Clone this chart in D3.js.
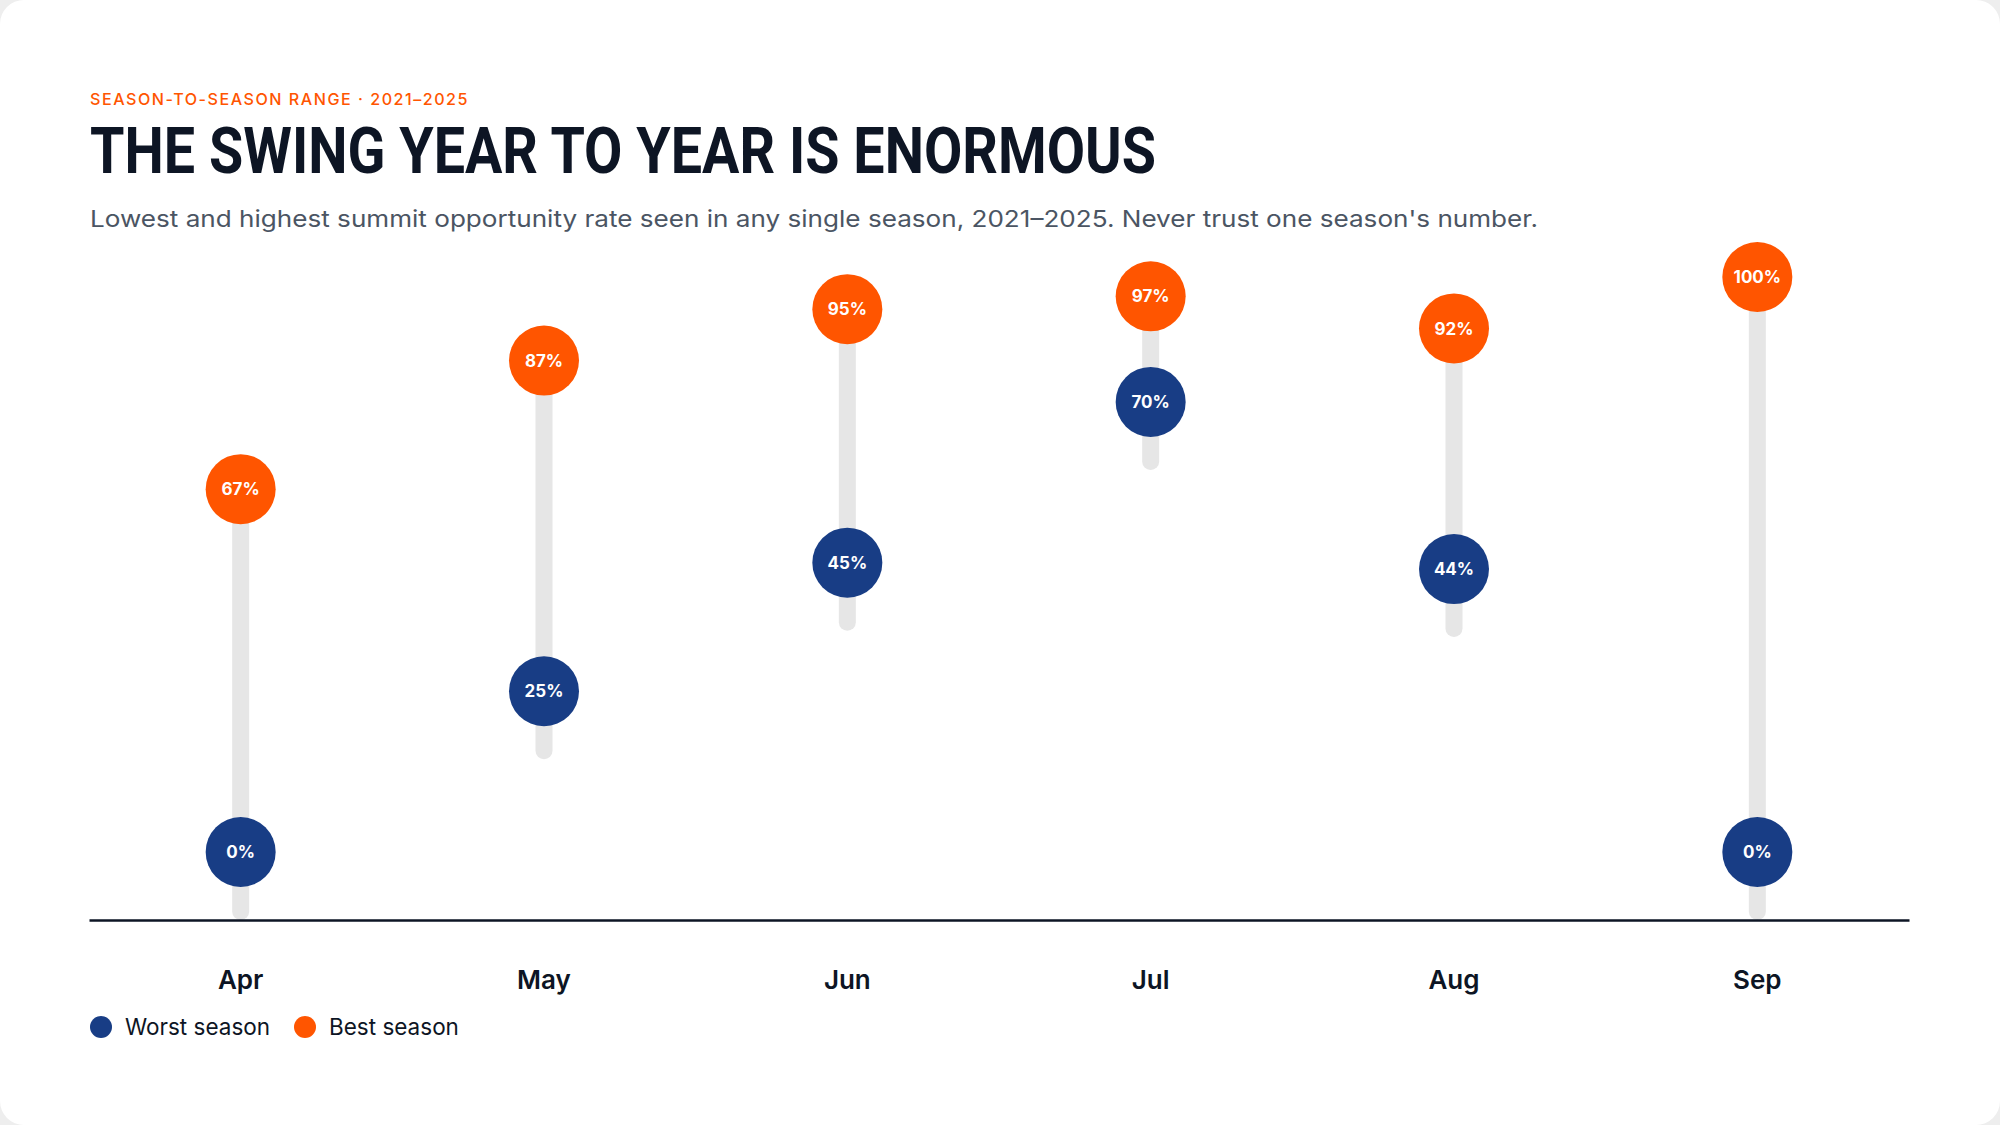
<!DOCTYPE html>
<html>
<head>
<meta charset="utf-8">
<script src="https://cdn.jsdelivr.net/npm/d3@7"></script>
<style>
  html, body { margin: 0; padding: 0; background: #eeeeee; }
  svg { display: block; }
</style>
</head>
<body>
<div id="chart"></div>
<script>
// Chart data
var months = ["Apr", "May", "Jun", "Jul", "Aug", "Sep"];
var worstSeason = [0, 25, 45, 70, 44, 0];
var bestSeason = [67, 87, 95, 97, 92, 100];
var legendLabels = ["Worst season", "Best season"];

// Define SVG area dimensions
var svgWidth = 2000;
var svgHeight = 1125;

var margin = { top: 277, right: 91, bottom: 205, left: 89 };
var width = svgWidth - margin.left - margin.right;
var height = svgHeight - margin.top - margin.bottom;

var navy = "#183d85";
var orange = "#ff5500";
var barGrey = "#e6e6e6";
var ink = "#0d1524";
var dotRadius = 35;
var lowLift = 68;

var svg = d3.select("#chart")
  .append("svg")
  .attr("width", svgWidth)
  .attr("height", svgHeight);

// White card
svg.append("rect")
  .attr("x", 0).attr("y", 0)
  .attr("width", svgWidth).attr("height", svgHeight)
  .attr("rx", 24)
  .attr("fill", "#ffffff");

// Header texts
svg.append("text")
  .attr("x", 90).attr("y", 105)
  .attr("font-family", "Inter, 'Noto Sans', sans-serif")
  .attr("font-size", 16)
  .attr("font-weight", 500)
  .attr("letter-spacing", 1.5)
  .attr("fill", orange)
  .attr("textLength", 379)
  .attr("lengthAdjust", "spacingAndGlyphs")
  .text("SEASON-TO-SEASON RANGE · 2021–2025");

svg.append("text")
  .attr("x", 90).attr("y", 173)
  .attr("font-family", "Roboto, Inter, sans-serif")
  .attr("font-size", 64)
  .attr("font-weight", 700)
  .attr("fill", ink)
  .attr("textLength", 1066)
  .attr("lengthAdjust", "spacingAndGlyphs")
  .text("THE SWING YEAR TO YEAR IS ENORMOUS");

svg.append("text")
  .attr("x", 90).attr("y", 227)
  .attr("font-family", "Inter, 'Noto Sans', sans-serif")
  .attr("font-size", 23)
  .attr("fill", "#4b5563")
  .attr("textLength", 1448)
  .attr("lengthAdjust", "spacingAndGlyphs")
  .text("Lowest and highest summit opportunity rate seen in any single season, 2021–2025. Never trust one season's number.");

var chartGroup = svg.append("g")
  .attr("transform", `translate(${margin.left}, ${margin.top})`);

// Scales
var xBandScale = d3.scaleBand()
  .domain(months)
  .range([0, width]);

var yLinearScale = d3.scaleLinear()
  .domain([0, 100])
  .range([height, 0]);

var rows = months.map(function (m, i) {
  return { month: m, worst: worstSeason[i], best: bestSeason[i] };
});

var cx = d => xBandScale(d.month) + xBandScale.bandwidth() / 2;

// Range bars
chartGroup.selectAll(".range")
  .data(rows)
  .enter()
  .append("line")
  .attr("class", "range")
  .attr("x1", cx)
  .attr("x2", cx)
  .attr("y1", d => yLinearScale(d.best))
  .attr("y2", d => yLinearScale(d.worst) - 8.5)
  .attr("stroke", barGrey)
  .attr("stroke-width", 17)
  .attr("stroke-linecap", "round");

// Axis
var bottomAxis = d3.axisBottom(xBandScale).tickSize(0).tickPadding(51);
var axisG = chartGroup.append("g")
  .attr("transform", `translate(0, ${height})`)
  .call(bottomAxis);
axisG.select(".domain")
  .attr("stroke", ink)
  .attr("stroke-width", 2.5);
axisG.selectAll("text")
  .attr("font-family", "Inter, 'Noto Sans', sans-serif")
  .attr("font-size", 26)
  .attr("font-weight", 600)
  .attr("fill", ink);

// Dots
function addDots(key, color, lift) {
  var g = chartGroup.selectAll(".dot-" + key)
    .data(rows)
    .enter()
    .append("g")
    .attr("class", "dot-" + key)
    .attr("transform", d => `translate(${cx(d)}, ${yLinearScale(d[key]) - lift})`);

  g.append("circle")
    .attr("r", dotRadius)
    .attr("fill", color);

  g.append("text")
    .attr("text-anchor", "middle")
    .attr("dy", "0.36em")
    .attr("font-family", "Inter, 'Noto Sans', sans-serif")
    .attr("font-size", 17)
    .attr("font-weight", 700)
    .attr("fill", "#ffffff")
    .text(d => d[key] + "%");
}
addDots("best", orange, 0);
addDots("worst", navy, lowLift);

// Legend
var legendX = [101, 305];
var legendColors = [navy, orange];
var legend = svg.selectAll(".legend")
  .data(legendLabels)
  .enter()
  .append("g")
  .attr("class", "legend")
  .attr("transform", (d, i) => `translate(${legendX[i]}, 1027)`);

legend.append("circle")
  .attr("r", 11)
  .attr("fill", (d, i) => legendColors[i]);

legend.append("text")
  .attr("x", 24)
  .attr("dy", "0.35em")
  .attr("font-family", "Inter, 'Noto Sans', sans-serif")
  .attr("font-size", 22.5)
  .attr("fill", ink)
  .text(d => d);
</script>
</body>
</html>
